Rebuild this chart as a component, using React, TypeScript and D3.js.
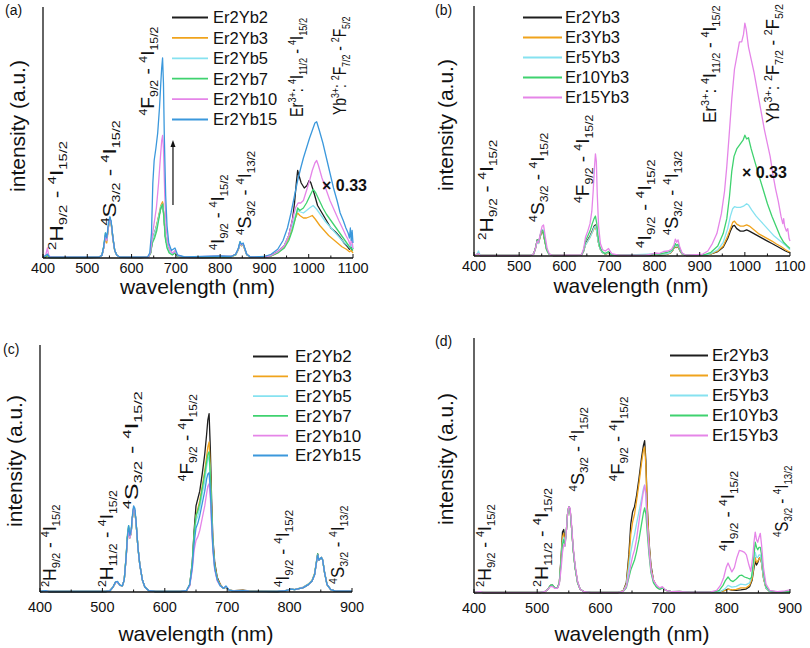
import React from "react";
import * as d3 from "d3";

type Pt = [number, number];

const FONT = "'Liberation Sans', Arial, Helvetica, sans-serif";
const COL = {
  black: "#1e1e1e",
  orange: "#f0a31c",
  cyan: "#86e2f0",
  green: "#3fd26f",
  pink: "#e585e8",
  blue: "#3b98dc",
};

const TICKS_AB = [400, 500, 600, 700, 800, 900, 1000, 1100];
const TICKS_CD = [400, 500, 600, 700, 800, 900];
const MINOR_AB = [450, 550, 650, 750, 850, 950, 1050];
const MINOR_CD = [450, 550, 650, 750, 850];

const NAMES_A = ["Er2Yb2", "Er2Yb3", "Er2Yb5", "Er2Yb7", "Er2Yb10", "Er2Yb15"];
const NAMES_B = ["Er2Yb3", "Er3Yb3", "Er5Yb3", "Er10Yb3", "Er15Yb3"];

// ---------- panel (a) ----------
const A_Er2Yb2: Pt[] = [[400,0.3],[406,0.4],[410,1.2],[414,0.3],[440,0.2],[500,0.2],[525,0.3],[533,1],[537,4],[541,9],[544,7],[548,13],[551,16],[554,14],[558,8],[562,3],[567,1],[575,0.3],[620,0.2],[638,0.4],[643,2],[647,7],[652,10],[657,13],[662,17],[666,20],[670,22],[673,17],[676,9],[680,5],[685,2.5],[692,1.5],[698,2.2],[704,0.8],[720,0.3],[760,0.2],[790,0.3],[800,0.8],[806,0.4],[825,0.6],[835,1.5],[841,3.5],[845,6],[848,5],[852,5.5],[856,3.5],[860,1.5],[868,0.4],[900,0.5],[915,1],[930,2.5],[945,5],[955,9],[963,15],[968,22],[972,30],[975,35],[978,33],[983,30],[990,28],[996,29],[1001,31],[1005,30],[1012,26],[1020,21],[1030,18],[1040,15],[1050,12],[1060,10.5],[1070,8.5],[1080,6],[1088,4.5],[1092,3.5],[1095,5],[1097,3],[1100,4]];
const A_Er2Yb3: Pt[] = [[400,0.2],[410,1],[415,0.2],[525,0.3],[533,1],[537,4],[541,8],[544,6],[548,12.5],[551,15.5],[554,13.5],[558,7],[562,3],[567,1],[575,0.3],[638,0.4],[643,2],[647,7],[652,10],[657,13.5],[662,17.5],[666,21],[670,22.5],[673,17],[676,9],[680,5],[685,2.5],[692,1.5],[698,2],[704,0.8],[720,0.3],[800,0.6],[825,0.5],[835,1.2],[841,3.2],[845,5.8],[848,4.8],[852,5.2],[856,3.2],[860,1.3],[868,0.4],[900,0.4],[915,0.8],[930,2],[945,4.5],[955,8],[963,12],[970,16],[975,18],[980,17],[988,16],[995,16],[1002,16.5],[1008,17],[1015,15.5],[1025,13],[1035,11],[1045,9],[1055,7.5],[1065,6],[1075,4.5],[1085,3.5],[1092,2.5],[1096,3],[1100,2]];
const A_Er2Yb5: Pt[] = [[400,0.2],[410,1.5],[415,0.2],[525,0.3],[533,1],[537,4],[541,9],[544,7],[548,13],[551,16],[554,14],[558,7.5],[562,3],[567,1],[575,0.3],[638,0.4],[643,2],[647,7],[652,10],[657,13],[662,17],[666,20.5],[670,21.5],[673,17],[676,9],[680,5],[685,2.5],[692,1.5],[698,2.5],[704,0.8],[720,0.3],[800,0.7],[825,0.6],[835,1.3],[841,3.4],[845,6],[848,5],[852,5.5],[856,3.4],[860,1.4],[868,0.4],[900,0.4],[915,1],[930,2.2],[945,5],[955,9],[963,13],[970,17],[975,19],[980,18.5],[988,18],[995,19],[1002,20],[1010,21],[1018,19.5],[1028,17],[1038,14.5],[1048,12.5],[1058,10.5],[1068,8.5],[1078,6.5],[1088,5],[1093,4],[1096,5.5],[1100,3.5]];
const A_Er2Yb7: Pt[] = [[400,0.2],[410,1],[415,0.2],[525,0.3],[533,1],[537,4.5],[541,10],[544,8],[548,13],[551,16],[554,14],[558,7.5],[562,3],[567,1],[575,0.3],[638,0.4],[643,2],[647,6],[652,8],[657,11],[662,16],[666,20],[670,21.5],[673,16],[676,8],[680,4],[685,2],[692,1.2],[698,2],[704,0.6],[720,0.3],[800,0.6],[825,0.5],[835,1.2],[841,3.5],[845,6.5],[848,5.3],[852,5.5],[856,3.4],[860,1.3],[868,0.4],[900,0.3],[915,0.8],[930,2],[945,4],[955,7],[963,11],[970,16],[975,20],[980,19],[988,20],[995,22],[1003,25],[1010,27.5],[1016,26],[1024,23],[1032,20],[1040,17.5],[1050,15],[1060,12.5],[1070,10],[1080,7.5],[1090,5],[1095,4],[1100,3]];
const A_Er2Yb10: Pt[] = [[400,0.5],[406,1],[410,4],[413,1],[418,0.3],[525,0.3],[533,1],[537,4],[541,9],[544,7],[548,13],[551,16],[554,14],[558,7.5],[562,3],[567,1],[575,0.3],[638,0.4],[643,2.5],[647,9],[651,14],[656,20],[661,30],[665,40],[668,47],[670,49],[672,44],[675,25],[678,12],[682,6],[687,3],[693,2],[698,3],[704,1],[720,0.3],[800,0.8],[825,0.6],[835,1.4],[841,3.5],[845,6.2],[848,5.2],[852,5.6],[856,3.4],[860,1.4],[868,0.4],[900,0.4],[915,1],[930,2.5],[945,5],[955,9],[963,15],[970,20],[976,22],[982,22],[988,23],[995,27],[1002,31],[1008,35],[1014,38],[1018,39],[1022,37],[1030,32],[1040,27],[1048,23],[1058,19],[1068,15],[1076,12],[1084,9],[1090,7],[1094,5],[1097,8],[1100,4]];
const A_Er2Yb15: Pt[] = [[400,0.3],[410,1.5],[415,0.3],[525,0.3],[533,1],[537,4.5],[541,10],[544,8],[548,14],[551,16.5],[554,14.5],[558,8],[562,3],[567,1],[575,0.3],[636,0.4],[641,2],[645,10],[648,30],[651,39],[655,44],[659,50],[663,60],[666,70],[668,76],[670,80],[672,70],[674,48],[677,25],[680,13],[684,6],[690,3],[698,4],[704,1.2],[720,0.4],[800,0.8],[825,0.6],[835,1.5],[841,3.8],[845,6.5],[848,5.5],[852,6],[856,3.7],[860,1.5],[868,0.4],[900,0.6],[915,1.5],[930,3.5],[942,7],[952,12],[960,18],[968,25],[975,31],[982,36],[988,40],[995,44],[1002,48],[1008,51],[1014,54],[1018,54.5],[1024,51],[1032,46],[1040,40],[1048,34],[1056,28],[1064,23],[1071,18],[1078,15],[1084,12],[1089,10],[1092,8],[1094,12],[1096,7],[1098,11],[1100,6]];

// ---------- panel (b) ----------
const B_Er2Yb3: Pt[] = [[400,0.2],[410,0.8],[414,0.2],[525,0.2],[532,0.8],[536,3],[540,6.5],[543,5.5],[547,8],[550,10],[553,9.5],[557,6],[561,2.5],[566,0.8],[575,0.2],[638,0.3],[643,2],[647,5],[652,6.5],[657,8],[662,10],[666,12],[669,12.5],[672,10],[675,6],[679,3],[684,1.5],[690,0.8],[698,1.2],[704,0.4],[720,0.2],[790,0.2],[800,0.6],[810,0.4],[825,0.6],[835,1.2],[841,2.5],[845,4],[848,3.4],[852,3.8],[856,2.2],[861,0.8],[870,0.2],[910,0.3],[925,0.8],[940,1.8],[952,3.5],[962,7],[968,10],[973,12],[977,12.3],[982,11],[990,10],[997,10],[1004,10.5],[1010,10],[1020,9],[1030,8],[1040,7],[1050,6],[1060,5],[1070,4],[1080,3],[1090,2],[1100,1.2]];
const B_Er3Yb3: Pt[] = [[400,0.2],[410,0.6],[414,0.2],[525,0.2],[532,0.8],[536,3],[540,6],[543,5],[547,8],[550,10],[553,10],[557,6],[561,2.5],[566,0.8],[575,0.2],[638,0.3],[643,2],[647,4.5],[652,6],[657,7.5],[662,9.5],[666,11],[669,12],[672,10],[675,6],[679,3],[684,1.5],[690,0.8],[698,1.2],[704,0.4],[720,0.2],[800,0.6],[825,0.6],[835,1.2],[841,2.6],[845,4.2],[848,3.5],[852,4],[856,2.3],[861,0.8],[870,0.2],[910,0.3],[925,0.8],[940,2],[952,4],[962,8],[968,11],[973,13.5],[977,14],[982,12.8],[990,12],[997,12],[1004,12.5],[1010,12],[1020,10.5],[1030,9],[1040,8],[1050,7],[1060,6],[1070,4.8],[1080,3.8],[1090,2.5],[1100,1.5]];
const B_Er5Yb3: Pt[] = [[400,0.3],[406,0.5],[410,2],[413,0.5],[418,0.2],[525,0.2],[532,0.8],[536,3],[540,6],[543,5],[547,8.5],[550,10.5],[553,10.5],[557,6.5],[561,2.5],[566,0.8],[575,0.2],[638,0.3],[643,2],[647,4.5],[652,6],[657,7.5],[662,9.5],[666,11.5],[669,12],[672,10],[675,6],[679,3],[684,1.5],[690,0.8],[698,1.4],[704,0.4],[720,0.2],[800,0.8],[825,0.8],[835,1.4],[841,2.8],[845,4.6],[848,3.8],[852,4.3],[856,2.5],[861,0.9],[870,0.2],[910,0.4],[925,1],[940,2.5],[952,5.5],[962,11],[968,16],[973,19],[977,19.8],[982,19.5],[990,19.5],[997,20],[1004,21],[1008,20.5],[1015,18.5],[1025,16],[1035,14],[1045,12],[1055,10],[1065,8],[1075,6.5],[1085,5],[1092,4],[1100,2.5]];
const B_Er10Yb3: Pt[] = [[400,0.2],[410,1],[414,0.2],[525,0.2],[532,0.8],[536,3],[540,6.5],[543,5.5],[547,8.5],[550,10.5],[553,10],[557,6],[561,2.5],[566,0.8],[575,0.2],[638,0.3],[643,2.5],[647,6],[652,8],[657,10],[662,13],[666,15],[669,16],[672,13],[675,7.5],[679,3.5],[684,1.8],[690,1],[698,1.8],[704,0.5],[720,0.3],[790,0.4],[800,1],[810,0.8],[820,1.2],[830,1.6],[838,2.2],[843,3.5],[846,5],[849,4.3],[852,4.7],[856,2.8],[861,1],[870,0.3],[910,0.5],[925,1.5],[940,4],[952,9],[960,15],[966,24],[971,34],[976,40],[982,43],[990,45],[996,46.5],[1000,48.5],[1004,47],[1008,47.5],[1014,43],[1022,38],[1030,33],[1040,27],[1050,21],[1060,16],[1070,11.5],[1078,8],[1086,5.5],[1094,4],[1100,3]];
const B_Er15Yb3: Pt[] = [[400,0.2],[410,1],[414,0.2],[525,0.2],[532,0.8],[536,3],[540,6],[543,5.5],[547,9],[551,12],[554,12.5],[558,7.5],[562,3],[567,0.8],[575,0.2],[638,0.4],[643,3],[647,7.5],[652,10],[657,13],[661,18],[664,26],[667,36],[669,41],[671,38],[673,25],[676,12],[680,5],[685,2.5],[691,2],[698,3],[705,1],[720,0.3],[780,0.3],[790,0.6],[800,1.2],[810,1],[820,1.8],[830,2],[838,2.8],[843,4.5],[846,6.8],[849,5.5],[852,6.5],[856,3.5],[861,1.2],[870,0.3],[905,0.6],[918,2],[928,5],[938,9],[948,17],[955,26],[960,36],[965,48],[971,63],[977,75],[983,81],[988,86],[993,86],[997,89],[1000,93.5],[1003,91],[1008,84],[1014,79],[1020,74],[1027,67],[1035,59],[1043,51],[1050,45],[1056,40],[1062,33],[1068,27],[1074,22],[1080,16],[1084,13],[1086,15],[1088,12],[1092,10],[1095,11],[1098,7],[1100,6]];

// ---------- panel (c) ----------
const C_Er2Yb2: Pt[] = [[400,0.2],[410,0.4],[415,0.2],[505,0.2],[512,0.5],[517,2],[521,4],[524,4.2],[528,2.8],[532,2.5],[535,5],[538,14],[540,22],[542,26],[544,22],[546,24],[548,30],[550,34],[552,33],[554,28],[557,18],[560,11],[564,5],[568,2],[574,0.6],[585,0.2],[625,0.2],[635,0.6],[640,3],[644,12],[647,25],[650,35],[653,38],[656,41],[660,48],[664,56],[667,64],[669,70],[671,72.5],[673,58],[675,38],[677,22],[680,12],[684,6],[689,3],[694,1.5],[698,2],[703,0.8],[712,0.5],[725,0.8],[735,0.4],[780,0.2],[790,0.4],[797,0.8],[802,1.3],[808,1],[815,1.4],[822,1.8],[830,3],[836,4.5],[840,7],[843,12],[845,15.5],[847,13],[849,13.5],[851,14],[853,13],[856,8],[860,3],[866,1],[875,0.3],[900,0.3]];
const C_Er2Yb3: Pt[] = [[400,0.2],[410,0.4],[415,0.2],[505,0.2],[512,0.5],[517,2],[521,3.8],[524,4],[528,2.7],[532,2.5],[535,5],[538,14],[540,21],[542,25.5],[544,22],[546,24],[548,30],[550,33.5],[552,33],[554,28],[557,18],[560,11],[564,5],[568,2],[574,0.6],[585,0.2],[625,0.2],[635,0.6],[640,3],[644,11],[647,22],[650,31],[653,34],[656,37],[660,43],[664,49],[667,55],[669,59],[671,61],[673,50],[675,34],[677,20],[680,11],[684,5.5],[689,3],[694,1.5],[698,2],[703,0.8],[712,0.5],[725,0.7],[735,0.4],[780,0.2],[790,0.4],[797,0.8],[802,1.2],[808,1],[815,1.5],[822,2],[830,3.2],[836,4.8],[840,7.5],[843,12],[845,15],[847,13],[849,13.5],[851,14],[853,13],[856,8],[860,3],[866,1],[875,0.3],[900,0.3]];
const C_Er2Yb5: Pt[] = [[400,0.2],[410,0.5],[415,0.2],[505,0.2],[512,0.5],[517,2],[521,4],[524,4.2],[528,2.8],[532,2.5],[535,5],[538,14],[540,22],[542,26.5],[544,22],[546,24],[548,30],[550,34],[552,33.5],[554,28],[557,18],[560,11],[564,5],[568,2],[574,0.6],[585,0.2],[625,0.2],[635,0.6],[640,3],[644,11],[647,22],[650,29],[653,31],[656,34],[660,40],[664,45],[667,51],[669,54],[671,55],[673,46],[675,32],[677,19],[680,10],[684,5],[689,2.5],[694,1.5],[698,2.2],[703,0.8],[712,0.4],[725,0.6],[735,0.3],[780,0.2],[790,0.4],[797,0.8],[802,1.3],[808,1],[815,1.5],[822,2],[830,3.2],[836,4.6],[840,7.2],[843,12],[845,15],[847,13],[849,13.5],[851,14],[853,13],[856,8],[860,3],[866,1],[875,0.3],[900,0.3]];
const C_Er2Yb7: Pt[] = [[400,0.2],[410,0.4],[415,0.2],[505,0.2],[512,0.5],[517,2],[521,3.8],[524,4],[528,2.7],[532,2.5],[535,5],[538,14.5],[540,23],[542,27],[544,22.5],[546,24],[548,30],[550,34],[552,33],[554,28],[557,18],[560,11],[564,5],[568,2],[574,0.6],[585,0.2],[625,0.2],[635,0.6],[640,3],[644,12],[647,24],[650,31],[653,33],[656,36],[660,42],[664,48],[667,53],[669,56],[671,57],[673,47],[675,32],[677,19],[680,10],[684,5],[689,2.5],[694,1.5],[698,2],[703,0.8],[712,0.4],[725,0.6],[735,0.3],[780,0.2],[790,0.4],[797,0.8],[802,1.2],[808,1],[815,1.4],[822,1.9],[830,3.1],[836,4.6],[840,7.3],[843,12.5],[845,15.5],[847,13],[849,13.5],[851,14],[853,13],[856,8],[860,3],[866,1],[875,0.3],[900,0.3]];
const C_Er2Yb10: Pt[] = [[400,0.2],[410,0.4],[415,0.2],[505,0.2],[512,0.5],[517,2],[521,3.8],[524,4],[528,2.7],[532,2.5],[535,5],[538,13.5],[540,21],[542,25.5],[544,22],[546,24],[548,30],[550,34],[552,33],[554,28],[557,18],[560,11],[564,5],[568,2],[574,0.6],[585,0.2],[625,0.2],[635,0.6],[640,2.5],[644,9],[647,17],[650,21],[653,22.5],[656,25],[660,30],[664,35],[667,40],[669,43],[671,44],[673,38],[675,27],[677,17],[680,9],[684,4.5],[689,2.5],[694,1.5],[698,2.2],[703,0.8],[712,0.4],[725,0.6],[735,0.3],[780,0.2],[790,0.4],[797,0.8],[802,1.2],[808,1],[815,1.4],[822,1.9],[830,3],[836,4.5],[840,7],[843,12],[845,15],[847,13],[849,13.5],[851,14],[853,13],[856,8],[860,3],[866,1],[875,0.3],[900,0.3]];
const C_Er2Yb15: Pt[] = [[400,0.2],[410,0.5],[415,0.2],[505,0.2],[512,0.5],[517,2],[521,4],[524,4.3],[528,2.8],[532,2.5],[535,5],[538,14],[540,22],[542,27],[544,23],[546,25],[548,31],[550,35],[552,34],[554,28.5],[557,18],[560,11],[564,5],[568,2],[574,0.6],[585,0.2],[625,0.2],[635,0.6],[640,3],[644,10],[647,20],[650,26],[653,28],[656,31],[660,36],[664,41],[667,46],[669,48],[671,48.5],[673,41],[675,29],[677,18],[680,9.5],[684,5],[689,2.5],[694,1.5],[698,2.5],[703,0.8],[712,0.4],[725,0.6],[735,0.3],[780,0.2],[790,0.4],[797,0.8],[802,1.2],[808,1],[815,1.4],[822,1.8],[830,3],[836,4.5],[840,7],[843,12],[845,15],[847,13],[849,13.5],[851,14],[853,13],[856,8],[860,3],[866,1],[875,0.3],[900,0.3]];

// ---------- panel (d) ----------
const D_Er2Yb3: Pt[] = [[400,0.2],[410,0.4],[415,0.2],[505,0.2],[512,0.5],[517,1.5],[521,3],[524,3.2],[528,2],[532,2],[535,4],[538,15],[540,24],[542,25],[544,20],[546,24],[548,31],[550,34],[552,33],[554,27],[557,17],[560,10],[564,4],[568,1.5],[574,0.5],[585,0.2],[628,0.2],[636,0.8],[641,4],[645,15],[648,27],[651,32],[654,34],[657,38],[661,45],[665,53],[668,58],[670,60],[672,52],[674,35],[677,20],[680,11],[684,5],[689,2.5],[694,1.5],[698,2],[704,1],[712,0.5],[725,0.6],[740,0.3],[780,0.3],[790,0.5],[797,1],[802,1.5],[808,1.1],[815,1],[822,1.2],[830,1.5],[836,2.5],[840,5],[843,10],[845,12.5],[847,11],[849,12],[851,13.5],[853,14],[855,12],[858,6],[862,2],[868,0.6],[880,0.3],[900,0.4]];
const D_Er3Yb3: Pt[] = [[400,0.2],[410,0.4],[415,0.2],[505,0.2],[512,0.5],[517,1.5],[521,3],[524,3.1],[528,2],[532,2],[535,4],[538,14],[540,22],[542,23.5],[544,19.5],[546,24],[548,31],[550,34],[552,33],[554,27],[557,17],[560,10],[564,4],[568,1.5],[574,0.5],[585,0.2],[628,0.2],[636,0.8],[641,3.5],[645,13],[648,23],[651,28],[654,31],[657,36],[661,43],[665,51],[668,56],[670,57.5],[672,50],[674,34],[677,19],[680,10],[684,5],[689,2.5],[694,1.5],[698,2],[704,1],[712,0.5],[725,0.5],[740,0.3],[780,0.3],[790,0.5],[797,1],[802,1.5],[808,1.2],[815,1.4],[822,2],[830,2],[836,3],[840,5.5],[843,11],[845,14],[847,12],[849,12.5],[851,13.5],[853,14],[855,12],[858,6],[862,2],[868,0.6],[880,0.3],[900,0.4]];
const D_Er5Yb3: Pt[] = [[400,0.2],[410,0.4],[415,0.2],[505,0.2],[512,0.5],[517,1.5],[521,3],[524,3.1],[528,2],[532,2],[535,4],[538,13],[540,20],[542,22],[544,19],[546,24],[548,31],[550,34],[552,33],[554,27],[557,17],[560,10],[564,4],[568,1.5],[574,0.5],[585,0.2],[628,0.2],[636,0.7],[641,3],[645,10],[648,16],[651,20],[654,23],[657,27],[661,32],[665,37],[668,41],[670,42.5],[672,38],[674,28],[677,17],[680,9],[684,4.5],[689,2.5],[694,1.5],[698,2],[704,1],[712,0.5],[725,0.5],[740,0.3],[780,0.3],[790,0.6],[797,1.6],[802,3],[808,2.3],[815,2.6],[822,3.5],[830,3.2],[836,4],[840,7],[843,12.5],[845,16],[847,14],[849,14],[851,15],[853,15],[855,12.5],[858,6.5],[862,2],[868,0.6],[880,0.3],[900,0.5]];
const D_Er10Yb3: Pt[] = [[400,0.2],[410,0.4],[415,0.2],[505,0.2],[512,0.5],[517,1.5],[521,3],[524,3.2],[528,2],[532,2],[535,4],[538,13],[540,19],[542,21],[544,18.5],[546,24],[548,31],[550,34],[552,33],[554,27],[557,17],[560,10],[564,4],[568,1.5],[574,0.5],[585,0.2],[628,0.2],[636,0.6],[641,2],[645,6],[648,9],[651,11],[654,13],[657,16],[661,21],[665,27],[668,31.5],[670,33.5],[672,31],[674,24],[677,15],[680,8],[684,4],[689,2.2],[694,1.5],[698,2],[704,1],[712,0.5],[725,0.5],[740,0.3],[780,0.4],[788,1],[794,3],[798,5],[802,6.3],[806,5],[810,4.5],[815,5.5],[820,6.8],[824,7],[828,6.3],[832,6],[836,5.5],[839,6],[842,12],[845,20],[847,18],[849,17],[851,18],[853,18],[855,15],[858,8],[862,2.5],[868,0.8],[880,0.4],[900,0.6]];
const D_Er15Yb3: Pt[] = [[400,0.2],[410,0.5],[415,0.2],[505,0.2],[512,0.5],[517,1.5],[521,2.5],[524,2.6],[528,1.8],[532,1.8],[535,3.5],[538,10],[540,16],[542,19],[544,18.5],[546,24],[548,31],[550,34],[552,33.5],[554,28],[557,18],[560,11],[564,4.5],[568,1.5],[574,0.5],[585,0.2],[628,0.2],[636,0.6],[641,2.5],[645,7],[648,11],[651,14.5],[654,17],[657,21],[661,28],[665,35],[668,40],[670,42.5],[672,39],[674,28],[677,17],[680,9],[684,5],[689,3],[694,2],[698,2.5],[704,1],[712,0.5],[725,0.5],[740,0.3],[775,0.4],[784,1],[790,3],[795,6],[799,10],[802,11.8],[805,10],[808,8.3],[812,10],[816,14],[820,16.8],[824,16.5],[828,16],[831,15],[835,11],[838,8.5],[841,14],[843,20],[845,24],[847,21],[849,20],[851,22],[853,23.5],[855,19],[858,10],[862,3.5],[868,1],[880,0.5],[892,0.8],[900,1.2]];

// transition labels: ^ = superscript, _ = subscript, parts split by |
const L_2H9 = "^2|H|_9/2| - |^4|I|_15/2";
const L_2H11 = "^2|H|_11/2| - |^4|I|_15/2";
const L_4S = "^4|S|_3/2| - |^4|I|_15/2";
const L_4F = "^4|F|_9/2| - |^4|I|_15/2";
const L_4I9 = "^4|I|_9/2| - |^4|I|_15/2";
const L_4S13 = "^4|S|_3/2| - |^4|I|_13/2";
const L_ER = "Er|^3+|: |^4|I|_11/2| - |^4|I|_15/2";
const L_YB = "Yb|^3+|: |^2|F|_7/2| - |^2|F|_5/2";

interface Series { name: string; color: string; data: Pt[] }
interface Ann { w: number; v: number; parts: string; k: number }
interface Panel {
  tag: string; tagX: number; tagY: number;
  left: number; right: number; top: number; bottom: number;
  domain: [number, number]; ticks: number[]; minor: number[];
  series: Series[]; anns: Ann[];
  leg: { x1: number; x2: number; tx: number; y0: number; dy: number; fs: number };
  tickY: number; titleX: number; titleY: number; yLabX: number; yLabY: number;
  note?: { w: number; v: number };
  arrow?: { w: number; v0: number; v1: number };
}

const colsA = [COL.black, COL.orange, COL.cyan, COL.green, COL.pink, COL.blue];
const colsB = [COL.black, COL.orange, COL.cyan, COL.green, COL.pink];

const PANELS: Panel[] = [
  {
    tag: "(a)", tagX: 5, tagY: 15, left: 43, right: 353, top: 8, bottom: 258,
    domain: [400, 1100], ticks: TICKS_AB, minor: MINOR_AB,
    series: [A_Er2Yb2, A_Er2Yb3, A_Er2Yb5, A_Er2Yb7, A_Er2Yb10, A_Er2Yb15].map((d, i) => ({ name: NAMES_A[i], color: colsA[i], data: d })),
    anns: [
      { w: 431.6, v: 3.2, parts: L_2H9, k: 1.28 }, { w: 551, v: 13, parts: L_4S, k: 1.25 }, { w: 637, v: 57, parts: L_4F, k: 1.07 },
      { w: 795, v: 3.2, parts: L_4I9, k: 0.98 }, { w: 856, v: 9.2, parts: L_4S13, k: 1.0 }, { w: 973.5, v: 56.4, parts: L_ER, k: 0.8 },
      { w: 1070.6, v: 57.2, parts: L_YB, k: 0.77 },
    ],
    leg: { x1: 172, x2: 208, tx: 213, y0: 17.5, dy: 20.4, fs: 16.5 },
    tickY: 273, titleX: 197.5, titleY: 294, yLabX: 25, yLabY: 126,
    note: { w: 1030, v: 26.8 },
    arrow: { w: 693.5, v0: 21.2, v1: 47.2 },
  },
  {
    tag: "(b)", tagX: 435, tagY: 15, left: 474, right: 790, top: 7, bottom: 256,
    domain: [400, 1100], ticks: TICKS_AB, minor: MINOR_AB,
    series: [B_Er2Yb3, B_Er3Yb3, B_Er5Yb3, B_Er10Yb3, B_Er15Yb3].map((d, i) => ({ name: NAMES_B[i], color: colsB[i], data: d })),
    anns: [
      { w: 428.8, v: 6.4, parts: L_2H9, k: 1.18 }, { w: 541.8, v: 13.7, parts: L_4S, k: 1.06 }, { w: 641.4, v: 21.3, parts: L_4F, k: 1.06 },
      { w: 778.8, v: 3.2, parts: L_4I9, k: 1.15 }, { w: 838.6, v: 8.4, parts: L_4S13, k: 1.0 }, { w: 922.7, v: 53.4, parts: L_ER, k: 0.95 },
      { w: 1062.3, v: 53.4, parts: L_YB, k: 0.93 },
    ],
    leg: { x1: 523, x2: 562, tx: 565, y0: 17.5, dy: 20, fs: 16.5 },
    tickY: 271, titleX: 631, titleY: 293, yLabX: 453, yLabY: 125,
    note: { w: 993.6, v: 31.3 },
  },
  {
    tag: "(c)", tagX: 3, tagY: 354, left: 40, right: 352, top: 346, bottom: 592,
    domain: [400, 900], ticks: TICKS_CD, minor: MINOR_CD,
    series: [C_Er2Yb2, C_Er2Yb3, C_Er2Yb5, C_Er2Yb7, C_Er2Yb10, C_Er2Yb15].map((d, i) => ({ name: NAMES_A[i], color: colsA[i], data: d })),
    anns: [
      { w: 416, v: 2, parts: L_2H9, k: 0.97 }, { w: 507.4, v: 2, parts: L_2H11, k: 1.07 }, { w: 547.4, v: 33.7, parts: L_4S, k: 1.4 },
      { w: 635.6, v: 45, parts: L_4F, k: 1.05 }, { w: 789.4, v: 2, parts: L_4I9, k: 1.0 }, { w: 877.6, v: 3.3, parts: L_4S13, k: 0.93 },
    ],
    leg: { x1: 253, x2: 288, tx: 295, y0: 356.5, dy: 19.8, fs: 17 },
    tickY: 612, titleX: 196, titleY: 641, yLabX: 22, yLabY: 461,
  },
  {
    tag: "(d)", tagX: 435, tagY: 346, left: 474, right: 790, top: 339, bottom: 593,
    domain: [400, 900], ticks: TICKS_CD, minor: MINOR_CD,
    series: [D_Er2Yb3, D_Er3Yb3, D_Er5Yb3, D_Er10Yb3, D_Er15Yb3].map((d, i) => ({ name: NAMES_B[i], color: colsB[i], data: d })),
    anns: [
      { w: 417.4, v: 2.4, parts: L_2H9, k: 0.97 }, { w: 507.6, v: 2.4, parts: L_2H11, k: 1.09 }, { w: 564.5, v: 40, parts: L_4S, k: 1.0 },
      { w: 627.8, v: 44, parts: L_4F, k: 1.02 }, { w: 801.8, v: 16.5, parts: L_4I9, k: 1.04 }, { w: 887.3, v: 22, parts: L_4S13, k: 0.85 },
    ],
    leg: { x1: 670, x2: 708, tx: 712, y0: 355.5, dy: 20, fs: 17 },
    tickY: 613, titleX: 632, titleY: 641, yLabX: 453, yLabY: 459,
  },
];

const MAIN_FS = 18;
const SMALL_FS = 11.5;

function Parts({ parts }: { parts: string }) {
  let cur = 0;
  return (
    <>
      {parts.split("|").map((t, i) => {
        let off = 0, fs = MAIN_FS, txt = t;
        if (t.startsWith("^")) { off = -7; fs = SMALL_FS; txt = t.slice(1); }
        else if (t.startsWith("_")) { off = 4; fs = SMALL_FS; txt = t.slice(1); }
        const dy = off - cur;
        cur = off;
        return <tspan key={i} dy={dy} fontSize={fs}>{txt}</tspan>;
      })}
    </>
  );
}

function PanelView({ p }: { p: Panel }) {
  const x = d3.scaleLinear().domain(p.domain).range([p.left, p.right]);
  const y = d3.scaleLinear().domain([0, 100]).range([p.bottom, p.top]);
  const line = d3.line<Pt>().x((d) => x(d[0])).y((d) => y(d[1]));
  return (
    <g>
      <text x={p.tagX} y={p.tagY} fontSize={14}>{p.tag}</text>
      {p.series.map((s) => (
        <path key={s.name} d={line(s.data) || ""} fill="none" stroke={s.color} strokeWidth={1.3} strokeLinejoin="round" />
      ))}
      <line x1={p.left} x2={p.left} y1={p.top - 1} y2={p.bottom} stroke="#111" strokeWidth={1.3} />
      <line x1={p.left} x2={p.right} y1={p.bottom} y2={p.bottom} stroke="#111" strokeWidth={1.3} />
      {p.ticks.map((t) => (
        <g key={t}>
          <line x1={x(t)} x2={x(t)} y1={p.bottom} y2={p.bottom - 4} stroke="#111" strokeWidth={1} />
          <text x={x(t)} y={p.tickY} fontSize={14.5} textAnchor="middle">{t}</text>
        </g>
      ))}
      {p.minor.map((t) => (
        <line key={t} x1={x(t)} x2={x(t)} y1={p.bottom} y2={p.bottom - 2.5} stroke="#111" strokeWidth={1} />
      ))}
      <text x={p.titleX} y={p.titleY} fontSize={21} textAnchor="middle">wavelength (nm)</text>
      <text transform={`translate(${p.yLabX},${p.yLabY}) rotate(-90)`} fontSize={21} textAnchor="middle">intensity (a.u.)</text>
      {p.anns.map((a, i) => (
        <text key={i} transform={`translate(${x(a.w) + 6},${y(a.v)}) rotate(-90) scale(${a.k},1)`} style={{ whiteSpace: "pre" }}>
          <Parts parts={a.parts} />
        </text>
      ))}
      {p.series.map((s, i) => {
        const yy = p.leg.y0 + i * p.leg.dy;
        return (
          <g key={"l" + s.name}>
            <line x1={p.leg.x1} x2={p.leg.x2} y1={yy} y2={yy} stroke={s.color} strokeWidth={1.8} />
            <text x={p.leg.tx} y={yy + 5.8} fontSize={p.leg.fs}>{s.name}</text>
          </g>
        );
      })}
      {p.note && (
        <text x={x(p.note.w)} y={y(p.note.v)} fontSize={16} fontWeight="bold">× 0.33</text>
      )}
      {p.arrow && (
        <g>
          <line x1={x(p.arrow.w)} x2={x(p.arrow.w)} y1={y(p.arrow.v0)} y2={y(p.arrow.v1) + 5} stroke="#111" strokeWidth={1.2} />
          <path d={`M${x(p.arrow.w)},${y(p.arrow.v1)} l-2.5,7 l5,0 z`} fill="#111" />
        </g>
      )}
    </g>
  );
}

export default function App() {
  return (
    <svg width={810} height={648} viewBox="0 0 810 648"
      style={{ position: "absolute", left: 0, top: 0, background: "#fff" }}
      fontFamily={FONT} fill="#111">
      <rect x={0} y={0} width={810} height={648} fill="#fff" />
      {PANELS.map((p) => <PanelView key={p.tag} p={p} />)}
    </svg>
  );
}
